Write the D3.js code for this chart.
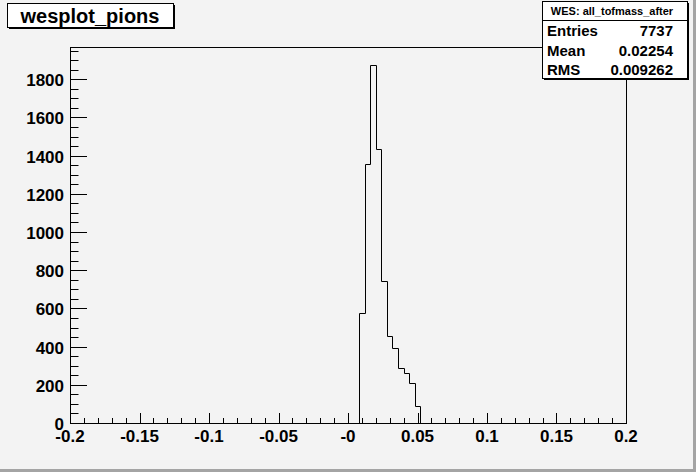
<!DOCTYPE html>
<html>
<head>
<meta charset="utf-8">
<script src="https://cdn.jsdelivr.net/npm/d3@7"></script>
<style>
  body { margin: 0; background: #f3f3f3; }
  svg { display: block; }
  text { font-family: "Liberation Sans", Arial, Helvetica, sans-serif; font-weight: bold; fill: #000; }
</style>
</head>
<body>
<div id="chart"></div>
<script>
// histogram: 100 bins over [-0.2, 0.2], only the non-empty ones listed
const binLow = [0.008, 0.012, 0.016, 0.020, 0.024, 0.028, 0.032, 0.036, 0.040, 0.044, 0.048];
const binCounts = [575, 1355, 1875, 1435, 745, 457, 394, 289, 263, 211, 90];
const binWidth = 0.004;

const xTickValues = [-0.2, -0.15, -0.1, -0.05, 0, 0.05, 0.1, 0.15, 0.2];
const xTickLabels = ["-0.2", "-0.15", "-0.1", "-0.05", "-0", "0.05", "0.1", "0.15", "0.2"];
const yTickValues = [0, 200, 400, 600, 800, 1000, 1200, 1400, 1600, 1800];

const histTitle = "wesplot_pions";
const statsName = "WES: all_tofmass_after";
const statsRows = [["Entries", "7737"], ["Mean", "0.02254"], ["RMS", "0.009262"]];

const W = 696, H = 472;
const frame = { left: 70, right: 626, top: 47, bottom: 423 };

const svg = d3.select("#chart").append("svg")
    .attr("width", W)
    .attr("height", H);

// canvas bevel on right/bottom
svg.append("rect").attr("x", W - 3).attr("y", 0).attr("width", 3).attr("height", H).attr("fill", "#a4a4a4");
svg.append("rect").attr("x", 0).attr("y", H - 3).attr("width", W).attr("height", 3).attr("fill", "#a4a4a4");

const x = d3.scaleLinear().domain([-0.2, 0.2]).range([frame.left, frame.right]);
const y = d3.scaleLinear().domain([0, d3.max(binCounts) * 1.05]).range([frame.bottom, frame.top]);

// histogram outline
const pts = [[binLow[0], 0]];
binLow.forEach((lo, i) => {
    pts.push([lo, binCounts[i]]);
    pts.push([lo + binWidth, binCounts[i]]);
});
pts.push([binLow[binLow.length - 1] + binWidth, 0]);

svg.append("path")
    .attr("d", d3.line().x(d => Math.round(x(d[0])) + 0.5).y(d => Math.round(y(d[1])) + 0.5)(pts))
    .attr("fill", "none")
    .attr("stroke", "#000")
    .attr("stroke-width", 1);

// frame
svg.append("rect")
    .attr("x", frame.left + 0.5).attr("y", frame.top + 0.5)
    .attr("width", frame.right - frame.left).attr("height", frame.bottom - frame.top)
    .attr("fill", "none").attr("stroke", "#000");

// x axis ticks (pointing up)
const xMinor = d3.range(-20, 21).map(i => i / 100);
svg.append("g").selectAll("line").data(xMinor).join("line")
    .attr("x1", d => Math.round(x(d)) + 0.5).attr("x2", d => Math.round(x(d)) + 0.5)
    .attr("y1", frame.bottom)
    .attr("y2", d => frame.bottom - (Math.abs(Math.round(d * 100) % 5) === 0 ? 10 : 5))
    .attr("stroke", "#000");

svg.append("g").selectAll("text").data(xTickValues).join("text")
    .attr("x", d => x(d))
    .attr("y", 442)
    .attr("text-anchor", "middle")
    .style("font-size", "17px")
    .text((d, i) => xTickLabels[i]);

// y axis ticks (pointing right)
const yMinor = d3.range(0, 1951, 50);
svg.append("g").selectAll("line").data(yMinor).join("line")
    .attr("x1", frame.left)
    .attr("x2", d => frame.left + (d % 200 === 0 ? 17 : 8.5))
    .attr("y1", d => Math.round(y(d)) + 0.5).attr("y2", d => Math.round(y(d)) + 0.5)
    .attr("stroke", "#000");

svg.append("g").selectAll("text").data(yTickValues).join("text")
    .attr("x", 64)
    .attr("y", d => y(d) + 7)
    .attr("text-anchor", "end")
    .style("font-size", "17px")
    .text(d => d);

// title box
const tb = { x: 7, y: 3, w: 166, h: 24 };
svg.append("rect").attr("x", tb.x + 2).attr("y", tb.y + 2).attr("width", tb.w).attr("height", tb.h).attr("fill", "#000");
svg.append("rect").attr("x", tb.x + 0.5).attr("y", tb.y + 0.5).attr("width", tb.w).attr("height", tb.h)
    .attr("fill", "#fff").attr("stroke", "#000");
svg.append("text")
    .attr("x", tb.x + tb.w / 2).attr("y", 23)
    .attr("text-anchor", "middle")
    .style("font-size", "20px")
    .text(histTitle);

// stats box
const sb = { x: 542, y: 1, w: 145, h: 77 };
svg.append("rect").attr("x", sb.x + 2).attr("y", sb.y + 2).attr("width", sb.w).attr("height", sb.h).attr("fill", "#000");
svg.append("rect").attr("x", sb.x + 0.5).attr("y", sb.y + 0.5).attr("width", sb.w).attr("height", sb.h)
    .attr("fill", "#fff").attr("stroke", "#000");
svg.append("line")
    .attr("x1", sb.x).attr("x2", sb.x + sb.w)
    .attr("y1", 20.5).attr("y2", 20.5)
    .attr("stroke", "#000");
svg.append("text")
    .attr("x", 612).attr("y", 15)
    .attr("text-anchor", "middle")
    .style("font-size", "11px")
    .text(statsName);

const rowBase = [36, 55.5, 74.5];
statsRows.forEach((r, i) => {
    svg.append("text").attr("x", 547).attr("y", rowBase[i])
        .style("font-size", "15px").text(r[0]);
    svg.append("text").attr("x", 673).attr("y", rowBase[i])
        .attr("text-anchor", "end")
        .style("font-size", "15px").text(r[1]);
});
</script>
</body>
</html>
